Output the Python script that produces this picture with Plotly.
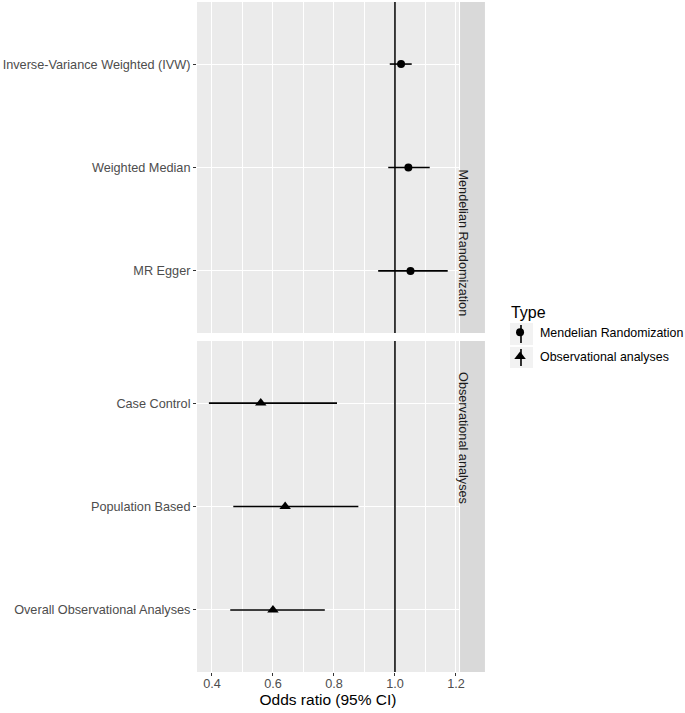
import plotly.graph_objects as go

# Mendelian randomization estimates (odds ratio and 95% CI)
mr_methods = ["Inverse-Variance Weighted (IVW)", "Weighted Median", "MR Egger"]
mr_or = [1.02, 1.044, 1.051]
mr_low = [0.983, 0.978, 0.945]
mr_high = [1.055, 1.114, 1.173]

# observational analyses
obs_methods = ["Case Control", "Population Based", "Overall Observational Analyses"]
obs_or = [0.56, 0.64, 0.60]
obs_low = [0.39, 0.47, 0.46]
obs_high = [0.81, 0.88, 0.77]

x_ticks = [0.4, 0.6, 0.8, 1.0, 1.2]
x_ticklabels = ["0.4", "0.6", "0.8", "1.0", "1.2"]

FONT = "Liberation Sans, Arial, sans-serif"
PANEL = "#EBEBEB"
STRIP = "#D9D9D9"
FS = 12.7

fig = go.Figure()

fig.add_trace(go.Scatter(
    x=mr_or, y=mr_methods, mode="markers", name="Mendelian Randomization",
    legendgroup="mr",
    marker=dict(symbol="circle", size=8, color="black"),
    error_x=dict(type="data", symmetric=False,
                 array=[h - o for h, o in zip(mr_high, mr_or)],
                 arrayminus=[o - l for o, l in zip(mr_or, mr_low)],
                 width=0, thickness=1.6, color="black"),
    xaxis="x", yaxis="y",
))
fig.add_trace(go.Scatter(
    x=obs_or, y=obs_methods, mode="markers", name="Observational analyses",
    legendgroup="obs",
    marker=dict(symbol="triangle-up", size=10, color="black"),
    error_x=dict(type="data", symmetric=False,
                 array=[h - o for h, o in zip(obs_high, obs_or)],
                 arrayminus=[o - l for o, l in zip(obs_or, obs_low)],
                 width=0, thickness=1.6, color="black"),
    xaxis="x2", yaxis="y2",
))

xr = [0.351, 1.21]
xcommon = dict(range=xr, tickvals=x_ticks, ticktext=x_ticklabels,
               showgrid=True, gridcolor="white", gridwidth=1.1,
               minor=dict(dtick=0.1, tick0=0.3, showgrid=True, gridcolor="white", gridwidth=0.6),
               zeroline=False, showline=False, automargin=False)
ycommon = dict(type="category", showgrid=True, gridcolor="white", gridwidth=1.1,
               zeroline=False, showline=False, ticks="outside", ticklen=3,
               tickcolor="#333333", tickwidth=1, automargin=False,
               tickfont=dict(family=FONT, size=FS, color="#4D4D4D"))

top_dom = [0.506, 1.0]
bot_dom = [0.0, 0.494]

fig.update_layout(
    width=685, height=713,
    margin=dict(l=197, r=226, t=2, b=41),
    paper_bgcolor="white", plot_bgcolor=PANEL,
    font=dict(family=FONT, color="black"),
    xaxis=dict(xcommon, anchor="y", matches="x2", showticklabels=False, ticks=""),
    xaxis2=dict(xcommon, anchor="y2", ticks="outside", ticklen=3, tickcolor="#333333",
                tickwidth=1, tickfont=dict(family=FONT, size=FS, color="#4D4D4D"),
                ticklabelstandoff=-3,
                title=dict(text="Odds ratio (95% CI)", font=dict(family=FONT, size=15.5, color="black"),
                           standoff=0)),
    yaxis=dict(ycommon, domain=top_dom, anchor="x",
               categoryorder="array", categoryarray=mr_methods, range=[2.6, -0.6]),
    yaxis2=dict(ycommon, domain=bot_dom, anchor="x2",
                categoryorder="array", categoryarray=obs_methods, range=[2.6, -0.6]),
    legend=dict(title=dict(text="\u00a0\u00a0Type", font=dict(family=FONT, size=16, color="black")),
                xref="container", yref="container",
                x=0.730, y=0.5835, xanchor="left", yanchor="top",
                font=dict(family=FONT, size=12.4, color="black"),
                bgcolor="rgba(0,0,0,0)", tracegroupgap=5, itemwidth=30),
    showlegend=True,
)

# reference line at OR = 1 in both panels
for xa, ya in [("x", "y"), ("x2", "y2")]:
    fig.add_shape(type="line", xref=xa, yref=ya + " domain", x0=1, x1=1, y0=0, y1=1,
                  line=dict(color="black", width=1.5), layer="above")

# facet strips on the right
for dom, label in [(top_dom, "Mendelian Randomization"), (bot_dom, "Observational analyses")]:
    fig.add_shape(type="rect", xref="paper", yref="paper", x0=1.004, x1=1.099,
                  y0=dom[0], y1=dom[1], fillcolor=STRIP, line=dict(width=0), layer="below")
    fig.add_annotation(xref="paper", yref="paper", x=1.0515, y=(dom[0] + dom[1]) / 2,
                       text=label, textangle=90, showarrow=False,
                       font=dict(family=FONT, size=FS, color="#1A1A1A"))

# ggplot-like legend key backgrounds with the interval line through the symbol
for (b0, b1), (l0, l1) in [((0.488, 0.5209), (0.491, 0.518)), ((0.4537, 0.4851), (0.4567, 0.482))]:
    fig.add_shape(type="rect", xref="paper", yref="paper", x0=1.1947, x1=1.2824,
                  y0=b0, y1=b1, fillcolor="#F2F2F2", line=dict(width=0), layer="below")
    fig.add_shape(type="line", xref="paper", yref="paper", x0=1.2366, x1=1.2366,
                  y0=l0, y1=l1, line=dict(color="black", width=1.6), layer="above")

fig.write_html("out.html", config={"displayModeBar": False},
               post_script="document.body.style.margin='0';")
